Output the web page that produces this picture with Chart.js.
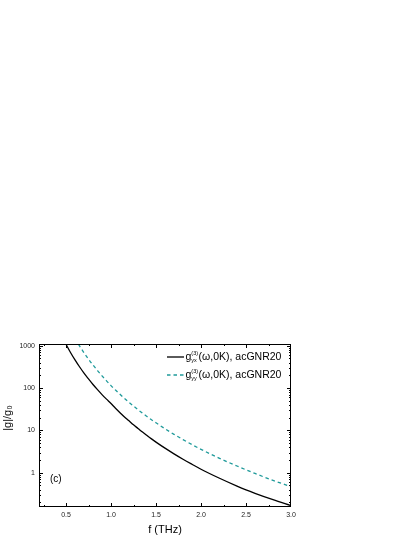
<!DOCTYPE html>
<html>
<head>
<meta charset="utf-8">
<script src="https://cdn.jsdelivr.net/npm/chart.js@4"></script>
<style>
	html, body { margin: 0; padding: 0; background: #fff; }
	canvas { display: block; }
</style>
</head>
<body>
<canvas id="chart-gnr" width="415" height="537"></canvas>
<script>
// Frecuencias (THz) y |g|/g0
const blackFreq = [0.45, 0.5, 0.55, 0.6, 0.65, 0.7, 0.75, 0.8, 0.85, 0.9, 0.95, 1.0, 1.05, 1.1, 1.15, 1.2, 1.25, 1.3, 1.35, 1.4, 1.45, 1.5,
                   1.6, 1.7, 1.8, 1.9, 2.0, 2.2, 2.4, 2.5, 2.6, 2.8, 3.0];
const blackG    = [1757, 1079, 692, 462, 318, 225, 164, 121, 91.4, 70, 54.6, 43, 33.4, 26.2, 20.8, 16.8, 13.5, 11.1, 9.1, 7.55, 6.29, 5.28,
                   3.8, 2.79, 2.08, 1.58, 1.21, 0.75, 0.483, 0.394, 0.327, 0.231, 0.167];

const tealFreq = [0.6, 0.65, 0.7, 0.75, 0.8, 0.85, 0.9, 0.95, 1.0, 1.05, 1.1, 1.15, 1.2, 1.25, 1.3, 1.35, 1.4, 1.45, 1.5,
                  1.6, 1.7, 1.8, 1.9, 2.0, 2.2, 2.4, 2.6, 2.8, 3.0];
const tealG    = [1469, 986, 681, 482, 349, 258, 194, 148, 114, 89.5, 71, 56.9, 45.9, 37.5, 30.8, 25.5, 21.3, 17.8, 15.1,
                  10.9, 8.06, 6.05, 4.62, 3.57, 2.22, 1.44, 0.96, 0.66, 0.47];

const xTicks = [0.5, 1.0, 1.5, 2.0, 2.5, 3.0];
const yTicks = [1, 10, 100, 1000];

const legendSubs = ["yx", "yy"];
const legendTail = "(ω,0K), acGNR20";

const FONT = "'Liberation Sans', Arial, sans-serif";

document.addEventListener("DOMContentLoaded", function () {

	const toPoints = (xs, ys) => xs.map((x, i) => ({ x: x, y: ys[i] }));

	// ── Marco, ticks hacia dentro, leyenda, títulos y "(c)" ─────────────
	const framePlugin = {
		id: "frame",
		afterDraw(chart) {
			const { ctx, chartArea: a, scales } = chart;
			const xs = scales.x, ys = scales.y;
			ctx.save();
			ctx.strokeStyle = "#000";
			ctx.lineWidth = 1;
			ctx.strokeRect(a.left + 0.5, a.top + 0.5, a.right - a.left - 1, a.bottom - a.top - 1);

			ctx.beginPath();
			// x: mayores cada 0.5, menores cada 0.25
			for (let v = 0.25; v <= 3.0001; v += 0.25) {
				const px = Math.round(xs.getPixelForValue(v)) + 0.5;
				if (px < a.left || px > a.right) continue;
				const len = (Math.abs(v / 0.5 - Math.round(v / 0.5)) < 1e-6) ? 4 : 2;
				ctx.moveTo(px, a.bottom); ctx.lineTo(px, a.bottom - len);
				ctx.moveTo(px, a.top);    ctx.lineTo(px, a.top + len);
			}
			// y: décadas y menores 2..9
			for (let d = 0.1; d <= 1000; d *= 10) {
				for (let k = 1; k <= 9; k++) {
					const v = d * k;
					if (v < ys.min || v > ys.max) continue;
					const py = Math.round(ys.getPixelForValue(v)) + 0.5;
					const len = k === 1 ? 4 : 2;
					ctx.moveTo(a.left, py);  ctx.lineTo(a.left + len, py);
					ctx.moveTo(a.right, py); ctx.lineTo(a.right - len, py);
				}
			}
			ctx.stroke();

			// leyenda
			const rows = [357, 375];
			chart.data.datasets.forEach((ds, i) => {
				const y = rows[i];
				ctx.beginPath();
				ctx.strokeStyle = ds.borderColor;
				ctx.lineWidth = ds.borderWidth;
				ctx.setLineDash(ds.borderDash || []);
				ctx.moveTo(167, y); ctx.lineTo(184, y);
				ctx.stroke();
				ctx.setLineDash([]);

				ctx.fillStyle = "#000";
				ctx.textBaseline = "alphabetic";
				ctx.textAlign = "left";
				let x = 185.5;
				ctx.font = "10.5px " + FONT;
				ctx.fillText("g", x, y + 3);
				x += ctx.measureText("g").width;
				ctx.font = "5.5px " + FONT;
				ctx.fillText(legendSubs[i], x, y + 5);
				const wSub = ctx.measureText(legendSubs[i]).width;
				ctx.fillText("(3)", x, y - 2);
				const wSup = ctx.measureText("(3)").width;
				x += Math.max(wSub, wSup) + 0.5;
				ctx.font = "10.5px " + FONT;
				ctx.fillText(legendTail, x, y + 3);
			});

			// título eje y (rotado)
			ctx.save();
			ctx.translate(8, 418);
			ctx.rotate(-Math.PI / 2);
			ctx.textAlign = "center";
			ctx.textBaseline = "middle";
			ctx.font = "11px " + FONT;
			ctx.fillStyle = "#000";
			ctx.fillText("|g|/g₀", 0, 0);
			ctx.restore();

			ctx.font = "10px " + FONT;
			ctx.fillStyle = "#000";
			ctx.textAlign = "left";
			ctx.textBaseline = "alphabetic";
			ctx.fillText("(c)", 50, 482);
			ctx.restore();
		},
	};

	new Chart(document.getElementById("chart-gnr"), {
		type: "line",
		data: {
			datasets: [
				{
					label:       "g_yx(3)(ω,0K), acGNR20",
					data:        toPoints(blackFreq, blackG),
					borderColor: "#000000",
					borderWidth: 1.3,
				},
				{
					label:       "g_yy(3)(ω,0K), acGNR20",
					data:        toPoints(tealFreq, tealG),
					borderColor: "#1f9a9a",
					borderWidth: 1.3,
					borderDash:  [3.5, 3],
				},
			],
		},
		options: {
			responsive: false,
			animation:  false,
			layout: { padding: { left: 0, right: 124, top: 344, bottom: 0 } },
			elements: {
				point: { radius: 0 },
				line:  { cubicInterpolationMode: "monotone", fill: false },
			},
			plugins: {
				legend:  { display: false },
				tooltip: { enabled: false },
			},
			scales: {
				x: {
					type: "linear",
					min: 0.2,
					max: 3.0,
					grid:   { display: false, drawTicks: false },
					border: { display: false },
					afterBuildTicks: (s) => { s.ticks = xTicks.map(v => ({ value: v })); },
					afterFit: (s) => { s.height = 30; },
					ticks: {
						padding: 4,
						color: "#222",
						font: { size: 7, family: FONT },
						callback: (v) => v.toFixed(1),
						maxRotation: 0,
					},
					title: {
						display: true,
						text: "f (THz)",
						color: "#000",
						padding: 0,
						font: { size: 11, family: FONT },
					},
				},
				y: {
					type: "logarithmic",
					min: 0.155,
					max: 1096,
					grid:   { display: false, drawTicks: false },
					border: { display: false },
					afterBuildTicks: (s) => { s.ticks = yTicks.map(v => ({ value: v })); },
					afterFit: (s) => { s.width = 39; },
					ticks: {
						padding: 4,
						color: "#222",
						font: { size: 7, family: FONT },
						callback: (v) => String(v),
					},
				},
			},
		},
		plugins: [framePlugin],
	});
});
</script>
</body>
</html>
